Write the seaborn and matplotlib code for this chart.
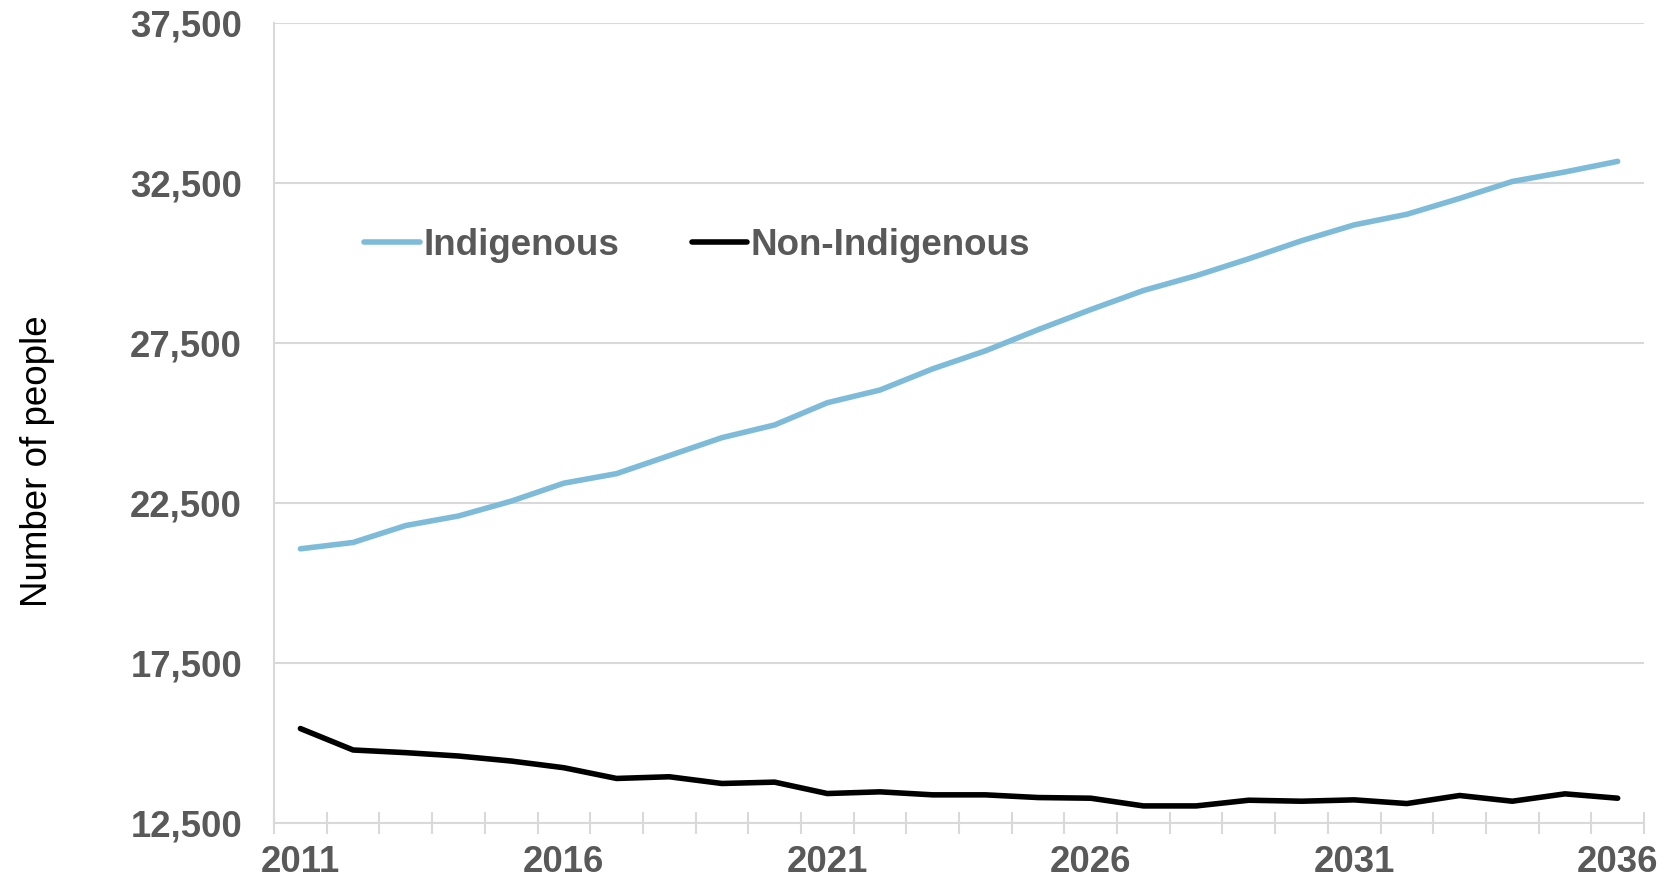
import matplotlib
matplotlib.use("Agg")
import matplotlib.pyplot as plt
import seaborn as sns
import pandas as pd
import numpy as np
from matplotlib.ticker import FixedLocator, FuncFormatter

years = list(range(2011, 2037))
indigenous = [21065, 21263, 21792, 22090, 22553, 23115, 23413, 23975, 24537, 24934,
              25628, 26025, 26687, 27249, 27910, 28538, 29134, 29597, 30126, 30688,
              31184, 31515, 32011, 32540, 32837, 33168]
non_indigenous = [15450, 14780, 14697, 14592, 14435, 14226, 13891, 13944, 13734, 13776,
                  13420, 13473, 13379, 13379, 13295, 13274, 13033, 13033, 13211, 13180,
                  13222, 13107, 13358, 13180, 13410, 13274]
series_names = ["Indigenous", "Non-Indigenous"]
y_ticks = [12500, 17500, 22500, 27500, 32500, 37500]
x_label_years = [2011, 2016, 2021, 2026, 2031, 2036]

df = pd.DataFrame({
    "Year": years * 2,
    "People": indigenous + non_indigenous,
    "Group": [series_names[0]] * len(years) + [series_names[1]] * len(years),
})

sns.set_theme(style="white")
plt.rcParams["font.family"] = ["Liberation Sans", "DejaVu Sans"]

fig = plt.figure(figsize=(16.66, 8.9), dpi=100)
ax = fig.add_axes([0.1645, 0.0753, 0.9868 - 0.1645, 0.9745 - 0.0753])

lw = 4.0
sns.lineplot(data=df, x="Year", y="People", hue="Group",
             palette={"Indigenous": "#7EBBD8", "Non-Indigenous": "#000000"},
             linewidth=lw, ax=ax, legend=True)
for ln in ax.get_lines():
    ln.set_solid_capstyle("round")
    ln.set_solid_joinstyle("round")

grey = "#595959"
ax.set_xlim(2010.5, 2036.5)
ax.set_ylim(12500, 37500)
ax.yaxis.set_major_locator(FixedLocator(y_ticks))
ax.yaxis.set_major_formatter(FuncFormatter(lambda v, p: f"{int(v):,}"))
ax.xaxis.set_major_locator(FixedLocator(x_label_years))
ax.xaxis.set_minor_locator(FixedLocator([y - 0.5 for y in years] + [years[-1] + 0.5]))
ax.xaxis.set_major_formatter(FuncFormatter(lambda v, p: f"{int(round(v))}"))

ax.grid(axis="y", color="#d9d9d9", linewidth=1.5)
ax.grid(axis="x", visible=False)
ax.set_axisbelow(True)
for s in ["top", "right"]:
    ax.spines[s].set_visible(False)
for s in ["left", "bottom"]:
    ax.spines[s].set_color("#d9d9d9")
    ax.spines[s].set_linewidth(1.5)

ax.tick_params(axis="y", length=0, pad=23, labelsize=26.3, labelcolor=grey)
ax.tick_params(axis="x", which="major", length=0, pad=16, labelsize=26.3, labelcolor=grey)
ax.tick_params(axis="x", which="minor", bottom=True, direction="inout", length=16,
               width=1.5, color="#d9d9d9")
for lab in ax.get_xticklabels() + ax.get_yticklabels():
    lab.set_fontweight("bold")

ax.set_xlabel("")
ax.set_ylabel("Number of people", fontsize=26.5, color="#000000")
ax.yaxis.set_label_coords(-0.160, 0.4525)

handles, labels = ax.get_legend_handles_labels()
leg = ax.legend(handles, labels, ncol=2, frameon=False, loc="center left",
                bbox_to_anchor=(0.066, 0.722), borderpad=0, borderaxespad=0,
                handlelength=1.5, handletextpad=0.1, columnspacing=1.97,
                prop={"size": 26.5, "weight": "bold"})
for t in leg.get_texts():
    t.set_color(grey)
for h in leg.get_lines():
    h.set_linewidth(lw)
    h.set_solid_capstyle("round")

fig.savefig("out.png", dpi=100)
